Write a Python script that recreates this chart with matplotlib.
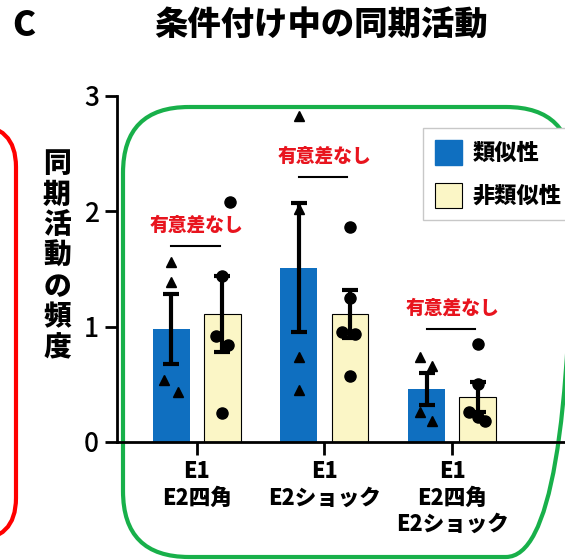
import matplotlib
matplotlib.use('Agg')
import matplotlib.pyplot as plt
from matplotlib.patches import FancyBboxPatch, Patch
import numpy as np

# data
groups = ['E1\nE2四角', 'E1\nE2ショック', 'E1\nE2四角\nE2ショック']
similar_mean = [0.98, 1.51, 0.46]
similar_sem = [0.30, 0.56, 0.14]
dissimilar_mean = [1.11, 1.11, 0.39]
dissimilar_sem = [0.33, 0.21, 0.13]
similar_points = [[1.56, 1.39, 0.54, 0.43],
                  [2.83, 2.02, 0.74, 0.45],
                  [0.74, 0.66, 0.26, 0.18]]
dissimilar_points = [[2.08, 1.44, 0.92, 0.84, 0.25],
                     [1.86, 1.25, 0.95, 0.94, 0.57],
                     [0.85, 0.50, 0.26, 0.22, 0.18]]
sig_levels = [1.70, 2.30, 0.98]
sig_text = '有意差なし'
title = '条件付け中の同期活動'
ylabel = '同期活動の頻度'
legend_labels = ['類似性', '非類似性']

# fixed horizontal spread of the dots (layout only)
similar_jitter = [[0.0, 0.0, -0.06, 0.05], [0.0, 0.0, 0.0, 0.0], [-0.05, 0.04, -0.05, 0.04]]
dissimilar_jitter = [[0.06, 0.0, -0.05, 0.04, 0.0], [0.0, 0.0, -0.06, 0.04, 0.0], [0.0, 0.0, -0.07, 0.0, 0.06]]

BLUE = '#0f6fc0'
YELLOW = '#fbf6c6'
RED = '#e8141e'
GREEN = '#18b04a'
CJK = ['Noto Sans CJK JP', 'DejaVu Sans']

plt.rcParams['font.family'] = CJK

W, H = 565, 560
fig = plt.figure(figsize=(W / 100, H / 100), dpi=100)

# background frames in pixel coordinates
bg = fig.add_axes([0, 0, 1, 1], zorder=0)
bg.set_xlim(0, W)
bg.set_ylim(H, 0)
bg.axis('off')
bg.add_patch(FancyBboxPatch((-300, 125), 316, 415, boxstyle='round,pad=0,rounding_size=42',
                            fill=False, edgecolor='#ff0000', linewidth=3, clip_on=False))
bg.add_patch(FancyBboxPatch((123, 107), 449, 450, boxstyle='round,pad=0,rounding_size=66',
                            fill=False, edgecolor=GREEN, linewidth=3, clip_on=False))

ax = fig.add_axes([117 / W, 118 / H, 453 / W, 346 / H], zorder=1)
ax.patch.set_alpha(0)

x = np.arange(len(groups))
off, bw = 0.2, 0.29
ax.bar(x - off, similar_mean, bw, color=BLUE, zorder=2)
ax.bar(x + off, dissimilar_mean, bw, color=YELLOW, edgecolor='black', linewidth=0.8, zorder=2)
ax.errorbar(x - off, similar_mean, yerr=similar_sem, fmt='none', ecolor='black',
            elinewidth=3, capsize=6, capthick=3, zorder=3)
ax.errorbar(x + off, dissimilar_mean, yerr=dissimilar_sem, fmt='none', ecolor='black',
            elinewidth=3, capsize=6, capthick=3, zorder=3)

for i in range(len(groups)):
    ax.plot(x[i] - off + np.array(similar_jitter[i]), similar_points[i], '^', color='black',
            markersize=7.5, linestyle='none', zorder=4, clip_on=False)
    ax.plot(x[i] + off + np.array(dissimilar_jitter[i]), dissimilar_points[i], 'o', color='black',
            markersize=8, linestyle='none', zorder=4, clip_on=False)
    # significance bar + label
    ax.plot([x[i] - 0.2, x[i] + 0.18], [sig_levels[i]] * 2, color='black', linewidth=1.5, zorder=4)
    ax.text(x[i], sig_levels[i] + 0.1, sig_text, color=RED, fontsize=13.5, fontweight='heavy',
            ha='center', va='bottom', zorder=5)

ax.set_xlim(-0.627, 2.925)
ax.set_ylim(0, 3)
ax.set_yticks([0, 1, 2, 3])
ax.set_yticklabels(['0', '1', '2', '3'], fontsize=19, fontweight='medium')
ax.set_xticks(x)
ax.set_xticklabels(groups, fontsize=15.5, fontweight='heavy', va='top')
ax.tick_params(axis='both', length=9, width=2, pad=4)
for side in ['top', 'right']:
    ax.spines[side].set_visible(False)
for side in ['left', 'bottom']:
    ax.spines[side].set_linewidth(2)

leg = ax.legend(handles=[Patch(facecolor=BLUE, edgecolor=BLUE),
                         Patch(facecolor=YELLOW, edgecolor='black', linewidth=0.8)],
                labels=legend_labels, loc='upper left', bbox_to_anchor=(423 / W, 1 - 128 / H),
                bbox_transform=fig.transFigure, fancybox=False, edgecolor='#c8c8c8',
                prop={'family': CJK, 'size': 16, 'weight': 'heavy'},
                handlelength=1.22, handleheight=1.35, labelspacing=0.8, handletextpad=0.45,
                borderpad=0.55, borderaxespad=0, framealpha=1)
leg.get_frame().set_linewidth(1)

fig.text(0.5 * (142 + 500) / W, 1 - 25 / H, title, fontsize=24, fontweight='heavy',
         ha='center', va='center')
fig.text(57 / W, 1 - 256 / H, '\n'.join(ylabel), fontsize=20, fontweight='heavy',
         ha='center', va='center', linespacing=1.1)
fig.text(12 / W, 1 - 25 / H, 'C', fontsize=25, fontweight='heavy',
         ha='left', va='center')

fig.savefig('out.png', dpi=100)
